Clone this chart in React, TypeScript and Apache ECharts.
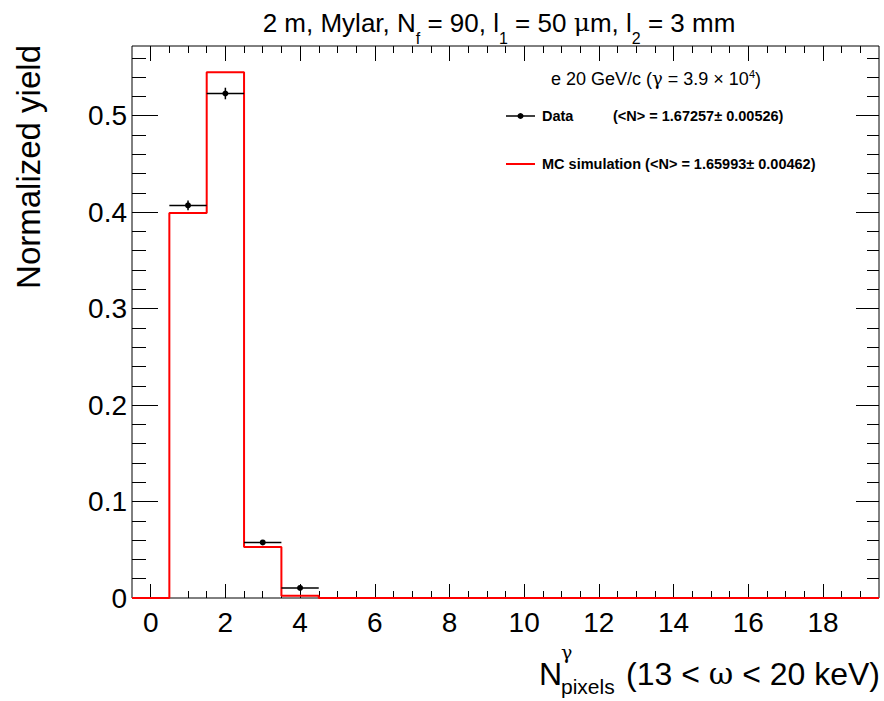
import { useEffect, useRef } from 'react';
import * as echarts from 'echarts';

// ---- data ----
const binCenters = [0, 1, 2, 3, 4, 5, 6, 7, 8, 9, 10, 11, 12, 13, 14, 15, 16, 17, 18, 19];
const mcValues = [0, 0.399, 0.545, 0.053, 0.0024, 0, 0, 0, 0, 0, 0, 0, 0, 0, 0, 0, 0, 0, 0, 0];
const dataBins = [1, 2, 3, 4];
const dataValues = [0.407, 0.523, 0.0576, 0.0104];
const dataErrors = [0.005, 0.006, 0.0025, 0.0012];
const xTickValues = [0, 2, 4, 6, 8, 10, 12, 14, 16, 18];
const xTickLabels = ['0', '2', '4', '6', '8', '10', '12', '14', '16', '18'];
const yTickValues = [0, 0.1, 0.2, 0.3, 0.4, 0.5];
const yTickLabels = ['0', '0.1', '0.2', '0.3', '0.4', '0.5'];

const BIN_HALF = 0.5;
const X_MIN = -0.5;
const X_MAX = 19.5;
const Y_MAX = 1.05 * Math.max(...mcValues);
const X_MINOR_STEP = 0.5;
const Y_MINOR_STEP = 0.02;
const xMinorTicks = Array.from({ length: 39 }, (_, i) => i * X_MINOR_STEP);
const yMinorTicks = Array.from({ length: 29 }, (_, i) => Math.round(i * Y_MINOR_STEP * 1000) / 1000);

const FONT = 'Liberation Sans, Arial, Helvetica, sans-serif';
const GREEK = 'DejaVu Serif, Liberation Serif, serif';

function xAxisDef(position: string, ticks: number[], len: number, labels: boolean) {
  return {
    type: 'value',
    position,
    min: X_MIN,
    max: X_MAX,
    axisLine: { show: false, onZero: false },
    splitLine: { show: false },
    axisTick: {
      show: true,
      inside: true,
      length: len,
      customValues: ticks,
      lineStyle: { color: '#000', width: 1 },
    },
    axisLabel: labels
      ? {
          show: true,
          customValues: ticks,
          fontSize: 28,
          fontFamily: FONT,
          color: '#000',
          margin: 10,
          formatter: (v: number) => {
            const i = xTickValues.indexOf(v);
            return i >= 0 ? xTickLabels[i] : String(v);
          },
        }
      : { show: false },
  };
}

function yAxisDef(position: string, ticks: number[], len: number, labels: boolean) {
  return {
    type: 'value',
    position,
    min: 0,
    max: Y_MAX,
    axisLine: { show: false, onZero: false },
    splitLine: { show: false },
    axisTick: {
      show: true,
      inside: true,
      length: len,
      customValues: ticks,
      lineStyle: { color: '#000', width: 1 },
    },
    axisLabel: labels
      ? {
          show: true,
          customValues: ticks,
          fontSize: 28,
          fontFamily: FONT,
          color: '#000',
          margin: 5,
          formatter: (v: number) => {
            const i = yTickValues.indexOf(v);
            return i >= 0 ? yTickLabels[i] : String(v);
          },
        }
      : { show: false },
  };
}

export default function App() {
  const ref = useRef<HTMLDivElement>(null);

  useEffect(() => {
    if (!ref.current) return;
    const chart = echarts.init(ref.current, null, { renderer: 'svg' });

    const mcStep: number[][] = binCenters.map((c, i) => [c - BIN_HALF, mcValues[i]]);
    mcStep.push([X_MAX, mcValues[mcValues.length - 1]]);

    const dataPts = dataBins.map((b, i) => [b, dataValues[i], dataErrors[i]]);

    const option: any = {
      animation: false,
      backgroundColor: '#fff',
      grid: {
        left: 132,
        right: 5,
        top: 46,
        bottom: 103,
        show: true,
        borderColor: '#000',
        borderWidth: 1,
        backgroundColor: 'transparent',
      },
      xAxis: [
        xAxisDef('bottom', xTickValues, 14, true),
        xAxisDef('bottom', xMinorTicks, 7, false),
        xAxisDef('top', xTickValues, 15, false),
        xAxisDef('top', xMinorTicks, 7, false),
      ],
      yAxis: [
        yAxisDef('left', yTickValues, 26, true),
        yAxisDef('left', yMinorTicks, 14, false),
        yAxisDef('right', yTickValues, 23, false),
        yAxisDef('right', yMinorTicks, 12, false),
      ],
      series: [
        {
          type: 'line',
          step: 'end',
          data: mcStep,
          symbol: 'none',
          clip: false,
          z: 3,
          lineStyle: { color: '#ff0000', width: 2 },
        },
        {
          type: 'custom',
          data: dataPts,
          encode: { x: 0, y: 1 },
          clip: false,
          z: 4,
          renderItem: (params: any, api: any) => {
            const x = api.value(0);
            const y = api.value(1);
            const e = api.value(2);
            const c = api.coord([x, y]);
            const l = api.coord([x - BIN_HALF, y]);
            const r = api.coord([x + BIN_HALF, y]);
            const t = api.coord([x, y + e]);
            const b = api.coord([x, y - e]);
            const st = { stroke: '#000', lineWidth: 1.5 };
            return {
              type: 'group',
              children: [
                { type: 'line', shape: { x1: l[0], y1: l[1], x2: r[0], y2: r[1] }, style: st },
                { type: 'line', shape: { x1: t[0], y1: t[1], x2: b[0], y2: b[1] }, style: st },
                { type: 'circle', shape: { cx: c[0], cy: c[1], r: 3 }, style: { fill: '#000' } },
              ],
            };
          },
        },
      ],
      graphic: [
        {
          type: 'text',
          x: 499,
          y: 22.5,
          style: {
            text: '{t|2 m, Mylar, N}{s|f}{t| = 90, l}{s|1}{t| = 50 }{g|μ}{t|m, l}{s|2}{t| = 3 mm}',
            align: 'center',
            verticalAlign: 'middle',
            fill: '#000',
            rich: {
              t: { fontSize: 26, fontFamily: FONT, lineHeight: 50, fill: '#000' },
              g: { fontSize: 25, fontFamily: GREEK, lineHeight: 50, fill: '#000' },
              s: { fontSize: 16, fontFamily: FONT, lineHeight: 50, padding: [31, 0, 0, 0], fill: '#000' },
            },
          },
        },
        {
          type: 'text',
          x: 656,
          y: 78.5,
          style: {
            text: '{t|e 20 GeV/c (}{g|γ}{t| = 3.9 × 10}{u|4}{t|)}',
            align: 'center',
            verticalAlign: 'middle',
            fill: '#000',
            rich: {
              t: { fontSize: 18, fontFamily: FONT, lineHeight: 30, fill: '#000' },
              g: { fontSize: 18, fontFamily: GREEK, lineHeight: 30, fill: '#000' },
              u: { fontSize: 11, fontFamily: FONT, lineHeight: 30, padding: [0, 0, 9, 0], fill: '#000' },
            },
          },
        },
        {
          type: 'line',
          shape: { x1: 506, y1: 116, x2: 535, y2: 116 },
          style: { stroke: '#000', lineWidth: 1.5 },
        },
        { type: 'circle', shape: { cx: 520.5, cy: 116, r: 3 }, style: { fill: '#000' } },
        {
          type: 'text',
          x: 542,
          y: 116,
          style: { text: 'Data', fontSize: 14.5, fontWeight: 'bold', fontFamily: FONT, fill: '#000', align: 'left', verticalAlign: 'middle' },
        },
        {
          type: 'text',
          x: 613,
          y: 116,
          style: { text: '(<N> = 1.67257± 0.00526)', fontSize: 14.5, fontWeight: 'bold', fontFamily: FONT, fill: '#000', align: 'left', verticalAlign: 'middle' },
        },
        {
          type: 'line',
          shape: { x1: 506, y1: 164, x2: 535, y2: 164 },
          style: { stroke: '#ff0000', lineWidth: 2 },
        },
        {
          type: 'text',
          x: 542,
          y: 164,
          style: { text: 'MC simulation (<N> = 1.65993± 0.00462)', fontSize: 14.5, fontWeight: 'bold', fontFamily: FONT, fill: '#000', align: 'left', verticalAlign: 'middle' },
        },
        {
          type: 'text',
          x: 28,
          y: 45,
          rotation: Math.PI / 2,
          style: { text: 'Normalized yield', fontSize: 33, fontFamily: FONT, fill: '#000', align: 'right', verticalAlign: 'middle' },
        },
        {
          type: 'text',
          x: 539,
          y: 673.5,
          style: { text: 'N', fontSize: 32, fontFamily: FONT, fill: '#000', align: 'left', verticalAlign: 'middle' },
        },
        {
          type: 'text',
          x: 561,
          y: 652,
          style: { text: 'γ', fontSize: 19, fontFamily: GREEK, fill: '#000', align: 'left', verticalAlign: 'middle' },
        },
        {
          type: 'text',
          x: 561,
          y: 686,
          style: { text: 'pixels', fontSize: 21, fontFamily: FONT, fill: '#000', align: 'left', verticalAlign: 'middle' },
        },
        {
          type: 'text',
          x: 880,
          y: 673.5,
          style: {
            text: '{t|(13 < }{g|ω}{t| < 20 keV)}',
            align: 'right',
            verticalAlign: 'middle',
            fill: '#000',
            rich: {
              t: { fontSize: 32, fontFamily: FONT, fill: '#000' },
              g: { fontSize: 30, fontFamily: GREEK, fill: '#000' },
            },
          },
        },
      ],
    };

    chart.setOption(option);
    return () => chart.dispose();
  }, []);

  return (
    <div
      ref={ref}
      style={{ position: 'absolute', left: 0, top: 0, width: 884, height: 701, background: '#fff' }}
    />
  );
}
